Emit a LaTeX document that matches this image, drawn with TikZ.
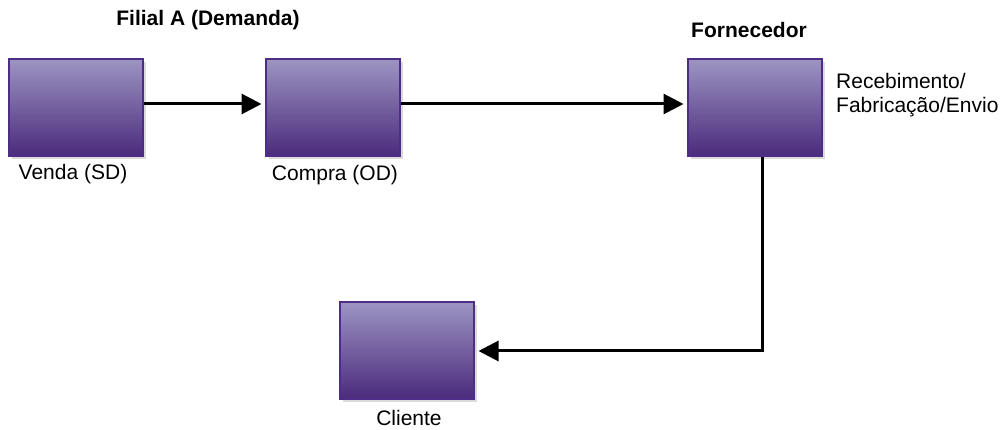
\documentclass[tikz,border=0pt]{standalone}
\usepackage{fontspec}
\setmainfont{Liberation Sans}
\usetikzlibrary{arrows.meta}
\usetikzlibrary{shadows}

\definecolor{roxoclaro}{HTML}{9C94C2}
\definecolor{roxoescuro}{HTML}{4A2A7C}
\definecolor{roxoborda}{HTML}{4E2D86}

\begin{document}
\begin{tikzpicture}[x=1pt,y=-1pt,
				   caixa/.style={rectangle,draw=roxoborda,line width=2pt,top color=roxoclaro,bottom color=roxoescuro,
				   minimum width=134pt,minimum height=97pt,
				   drop shadow={shadow xshift=3pt,shadow yshift=-3pt,fill=black!14,opacity=1}},
				   rotulo/.style={font=\fontsize{21}{24}\selectfont,inner sep=0pt},
				   titulo/.style={font=\fontsize{21}{24}\selectfont\bfseries,inner sep=0pt},
				   seta/.style={line width=3pt,-{Triangle[length=20pt,width=20pt]}}]
\useasboundingbox (0,0) rectangle (1005,430);
\node[caixa] (venda) at (75.5,108) {};
\node[caixa] (compra) at (332.5,108) {};
\node[caixa] (fornecedor) at (754.5,108) {};
\node[caixa] (cliente) at (406.5,351) {};
\node[titulo] (filial) at (208,20) {Filial A (Demanda)};
\node[titulo] (forn) at (749,30) {Fornecedor};
\node[rotulo,anchor=base] (lvenda) at (73,180) {Venda (SD)};
\node[rotulo,anchor=base] (lcompra) at (335,181) {Compra (OD)};
\node[rotulo,anchor=base] (lcliente) at (409,426) {Cliente};
\node[rotulo,anchor=west,align=left] (lforn) at (836,95) {Recebimento/\\Fabricação/Envio};
\draw[seta,shorten >=3pt] ([yshift=4pt]venda.east) -- ([yshift=4pt]compra.west);
\draw[seta,shorten >=3pt] ([yshift=4pt]compra.east) -- ([yshift=4pt]fornecedor.west);
\draw[seta,shorten >=4pt] ([xshift=7.5pt]fornecedor.south) |- (cliente.east);
\end{tikzpicture}
\end{document}
